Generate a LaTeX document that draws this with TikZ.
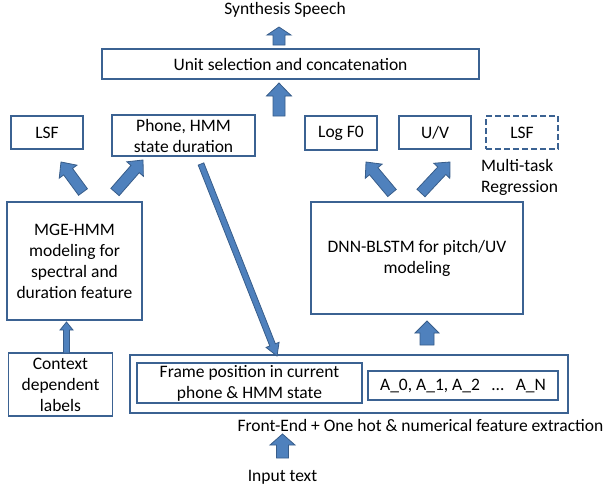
\documentclass[tikz,border=0pt]{standalone}
\usepackage{fontspec}
\setmainfont{Carlito}
\usetikzlibrary{calc}
\definecolor{boxline}{HTML}{3B6292}
\definecolor{arrfill}{HTML}{4F81BD}
\definecolor{arrline}{HTML}{385D8A}
\tikzset{
  txt/.style={font=\fontsize{17.5}{21}\selectfont, inner sep=0pt, align=center},
  box/.style={txt, draw=boxline, line width=1.8pt, rectangle},
  dashbox/.style={box, dash pattern=on 6pt off 3pt},
  barrow/.style={fill=arrfill, draw=arrline, line width=0.8pt, line join=miter},
}
% #1 tail, #2 tip, #3 half shaft, #4 half head, #5 head length
\newcommand\blockarrow[5]{%
  \coordinate (bahead) at ($(#2)!#5!(#1)$);
  \path[barrow] ($(#1)!#3!90:(#2)$) -- ($(bahead)!#3!-90:(#1)$) -- ($(bahead)!#4!-90:(#1)$)
    -- (#2) -- ($(bahead)!#4!90:(#1)$) -- ($(bahead)!#3!90:(#1)$) -- ($(#1)!#3!-90:(#2)$) -- cycle;
}
\begin{document}
\begin{tikzpicture}[x=1pt,y=-1pt]
\useasboundingbox (0,0) rectangle (608,488);
% boxes
\node[box, minimum width=377, minimum height=30] (unit) at (290.5,64) {Unit selection and concatenation};
\node[box, minimum width=72, minimum height=33] (lsfa) at (47,132.5) {LSF};
\node[box, minimum width=143, minimum height=41] (phone) at (183.5,135.5) {Phone, HMM\\state duration};
\node[box, minimum width=71.5, minimum height=34] (logf) at (341,133) {Log F0};
\node[box, minimum width=72, minimum height=33] (uv) at (435,132.5) {U/V};
\node[dashbox, minimum width=72, minimum height=33] (lsfb) at (522,132.5) {LSF};
\node[box, minimum width=135, minimum height=118] (mge) at (74.5,261) {MGE-HMM\\modeling for\\spectral and\\duration feature};
\node[box, minimum width=212, minimum height=112] (dnn) at (417,258) {DNN-BLSTM for pitch/UV\\modeling};
\node[box, minimum width=104, minimum height=63] (ctx) at (60.5,384.5) {Context\\dependent\\labels};
\node[box, minimum width=438, minimum height=58] (front) at (349,384) {};
\node[box, minimum width=225, minimum height=40] (fpos) at (249.5,383) {Frame position in current\\phone \& HMM state};
\node[box, minimum width=190, minimum height=29] (abox) at (463,385.5) {A\_0, A\_1, A\_2 \ \ \ldots\ \ \ A\_N};
% plain texts
\node[txt] (synth) at (285,10) {Synthesis Speech};
\node[txt, align=left, anchor=west] (mtr) at (481,177.5) {Multi-task\\Regression};
\node[txt] (felabel) at (420.5,425) {Front-End + One hot \& numerical feature extraction};
\node[txt] (input) at (282.5,477) {Input text};
% arrow end points
\coordinate (a1t) at (279,45);  \coordinate (a1h) at (279,27);
\coordinate (a2t) at (279,116); \coordinate (a2h) at (279,83);
\coordinate (a3t) at (83,192);  \coordinate (a3h) at (61,162);
\coordinate (a4t) at (115,192); \coordinate (a4h) at (143,160);
\coordinate (a5t) at (392,193); \coordinate (a5h) at (366,162);
\coordinate (a6t) at (421,193); \coordinate (a6h) at (450,162);
\coordinate (a7t) at (201,164); \coordinate (a7h) at (277,356);
\coordinate (a8t) at (66.5,353); \coordinate (a8h) at (66.5,322);
\coordinate (a9t) at (427,345); \coordinate (a9h) at (427,321);
\coordinate (a10t) at (282.5,458); \coordinate (a10h) at (282.5,434);
% arrows
\blockarrow{a1t}{a1h}{6pt}{12pt}{8pt}
\blockarrow{a2t}{a2h}{6pt}{12.5pt}{13pt}
\blockarrow{a3t}{a3h}{5.5pt}{11pt}{12pt}
\blockarrow{a4t}{a4h}{5.5pt}{11pt}{12pt}
\blockarrow{a5t}{a5h}{5.5pt}{11pt}{12pt}
\blockarrow{a6t}{a6h}{5.5pt}{11pt}{12pt}
\blockarrow{a7t}{a7h}{3pt}{7pt}{12pt}
\blockarrow{a8t}{a8h}{3pt}{6.5pt}{8pt}
\blockarrow{a9t}{a9h}{7pt}{12pt}{12pt}
\blockarrow{a10t}{a10h}{6pt}{12.5pt}{11pt}
\end{tikzpicture}
\end{document}
